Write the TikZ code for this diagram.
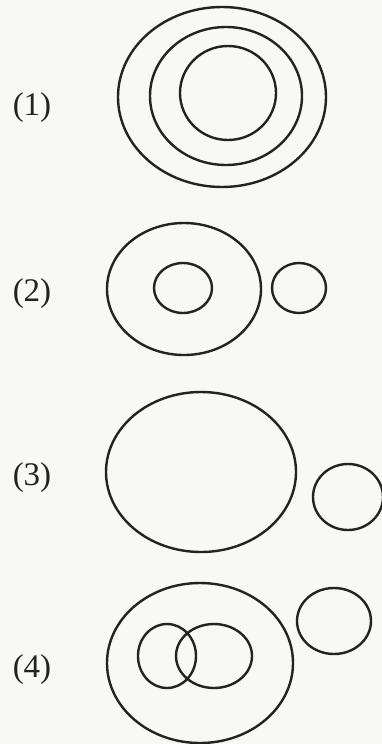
\documentclass[tikz,border=0pt]{standalone}
\usepackage{fontspec}
\setmainfont{Liberation Serif}
\usepackage{tikz}
\usetikzlibrary{positioning}
\definecolor{ink}{RGB}{35,35,35}
\definecolor{paper}{RGB}{248,248,246}

\begin{document}
\begin{tikzpicture}[x=1pt,y=-1pt, line width=2.4pt, draw=ink]
\tikzset{lbl/.style={font=\fontsize{33}{36}\selectfont, text=ink, inner sep=0pt}}
\fill[paper] (0,0) rectangle (382,744);
\useasboundingbox (0,0) rectangle (382,744);
% (1)
\node[lbl] (lab1) at (32,108) {(1)};
\draw[ink] (222,97) ellipse [x radius=104, y radius=90];
\draw[ink] (226,96) ellipse [x radius=76, y radius=69];
\draw[ink] (228,93) ellipse [x radius=48, y radius=47];
% (2)
\node[lbl] (lab2) at (32,294) {(2)};
\draw[ink] (184,289) ellipse [x radius=77, y radius=66];
\draw[ink] (183,288) ellipse [x radius=29, y radius=25];
\draw[ink] (299,288) ellipse [x radius=27, y radius=25];
% (3)
\node[lbl] (lab3) at (32,478) {(3)};
\draw[ink] (201,472) ellipse [x radius=95, y radius=80];
\draw[ink] (348,497) ellipse [x radius=35, y radius=33];
% (4)
\node[lbl] (lab4) at (32,670) {(4)};
\draw[ink] (200,663) ellipse [x radius=93, y radius=80];
\draw[ink] (167,656) ellipse [x radius=29, y radius=32];
\draw[ink] (214,656) ellipse [x radius=38, y radius=32];
\draw[ink] (334,621) ellipse [x radius=37, y radius=33];
\end{tikzpicture}
\end{document}
